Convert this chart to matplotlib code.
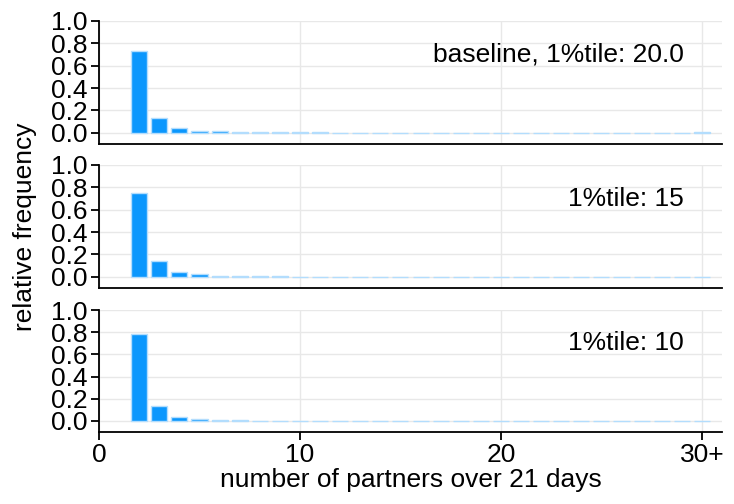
import numpy as np
import matplotlib
matplotlib.use('Agg')
import matplotlib.pyplot as plt

plt.rcParams['font.family'] = ['Liberation Sans', 'DejaVu Sans']

# number of partners (bins), 30 = "30+"
partners = np.arange(2, 31)

# relative frequencies
freq_base = [0.735, 0.134, 0.045, 0.020, 0.012, 0.007, 0.005, 0.004, 0.003, 0.003,
             0.002, 0.002, 0.002, 0.0015, 0.0015, 0.001, 0.001, 0.001, 0.001, 0.001,
             0.0008, 0.0008, 0.0007, 0.0006, 0.0006, 0.0005, 0.0005, 0.0005, 0.010]
freq_15 = [0.748, 0.141, 0.045, 0.021, 0.010, 0.006, 0.004, 0.003, 0.0025, 0.002,
           0.0015, 0.0012, 0.001, 0.0008, 0.0007, 0.0006, 0.0005, 0.0004, 0.0003, 0.0003,
           0.0002, 0.0002, 0.0002, 0.0001, 0.0001, 0.0001, 0.0001, 0.0001, 0.0001]
freq_10 = [0.784, 0.138, 0.039, 0.015, 0.008, 0.004, 0.003, 0.002, 0.0015, 0.001,
           0.0008, 0.0006, 0.0005, 0.0004, 0.0003, 0.0002, 0.0002, 0.0001, 0.0001, 0.0001,
           0.0, 0.0, 0.0, 0.0, 0.0, 0.0, 0.0, 0.0, 0.0]

series = [freq_base, freq_15, freq_10]
labels = ['baseline, 1%tile: 20.0', '1%tile: 15', '1%tile: 10']

xticks = [0, 10, 20, 30]
xticklabels = ['0', '10', '20', '30+']
yticks = [0.0, 0.2, 0.4, 0.6, 0.8, 1.0]

fs = 19
fig = plt.figure(figsize=(7.34, 5.04), dpi=100)
W, H = 734, 504
left, right = 99, 722
tops = [21, 165, 310]
bots = [144, 288, 432]

bar_col = '#0b97fd'
axes = []
for i in range(3):
    ax = fig.add_axes([left / W, 1 - bots[i] / H, (right - left) / W, (bots[i] - tops[i]) / H])
    vals = np.array(series[i])
    ax.bar(partners, vals, width=0.8, color=bar_col, edgecolor='#b3ddfd',
           linewidth=1.0, zorder=3)
    ax.set_xlim(0, 31)
    ax.set_ylim(-0.1, 1.0)
    ax.set_xticks(xticks)
    ax.set_yticks(yticks)
    ax.set_yticklabels(['%.1f' % v for v in yticks], fontsize=fs)
    ax.grid(True, color='#e8e8e8', linewidth=1, zorder=0)
    ax.set_axisbelow(True)
    for s in ['top', 'right']:
        ax.spines[s].set_visible(False)
    ax.spines['left'].set_bounds(-0.1, 1.0)
    ax.spines['left'].set_linewidth(1.3)
    ax.spines['bottom'].set_linewidth(1.3)
    ax.tick_params(axis='y', length=6, width=1.3, pad=2)
    ax.text(29.1, 0.70, labels[i], ha='right', va='center', fontsize=fs, zorder=4)
    if i < 2:
        ax.tick_params(axis='x', length=0, labelbottom=False)
    else:
        ax.set_xticklabels(xticklabels, fontsize=fs)
        ax.tick_params(axis='x', length=6, width=1.3, pad=2)
        ax.set_xlabel('number of partners over 21 days', fontsize=fs, labelpad=1)
    axes.append(ax)

fig.text(25 / W, 1 - 227 / H, 'relative frequency', rotation=90, ha='center',
         va='center', fontsize=fs)

fig.savefig('out.png', dpi=100)
